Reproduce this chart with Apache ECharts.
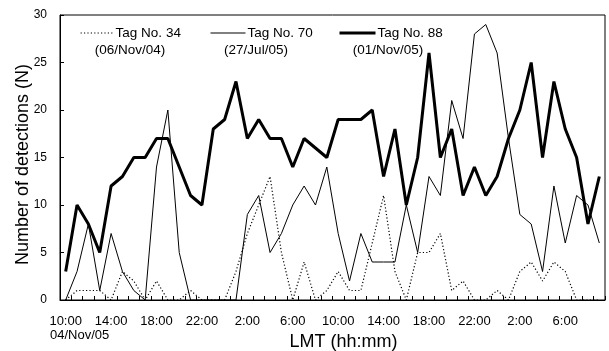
<!DOCTYPE html>
<html>
<head>
<meta charset="utf-8">
<script src="https://cdn.jsdelivr.net/npm/echarts@6/dist/echarts.min.js"></script>
<style>
  html, body { margin: 0; padding: 0; background: #fff; }
  #chart { width: 609px; height: 351px; }
</style>
</head>
<body>
<div id="chart"></div>
<script>
// hourly bins, 10:00 on 04/Nov/05 through 09:00 two days later
const hours = [
  '10:00', '11:00', '12:00', '13:00', '14:00', '15:00', '16:00', '17:00',
  '18:00', '19:00', '20:00', '21:00', '22:00', '23:00', '0:00', '1:00',
  '2:00', '3:00', '4:00', '5:00', '6:00', '7:00', '8:00', '9:00',
  '10:00', '11:00', '12:00', '13:00', '14:00', '15:00', '16:00', '17:00',
  '18:00', '19:00', '20:00', '21:00', '22:00', '23:00', '0:00', '1:00',
  '2:00', '3:00', '4:00', '5:00', '6:00', '7:00', '8:00', '9:00'
];
const startDate = '04/Nov/05';

const tag34 = [
  0, 1, 1, 1, 0, 3, 2, 0, 2, 0, 0, 1, 0, 0, 0, 3,
  7, 10, 13, 5, 0, 4, 0, 1, 3, 1, 1, 6, 11, 3, 0, 5,
  5, 7, 1, 2, 0, 0, 1, 0, 3, 4, 2, 4, 3, 0, 0, 0
];
const tag70 = [
  0, 3, 8, 1, 7, 3, 1, 0, 14, 20, 5, 0, 0, 0, 0, 0,
  9, 11, 5, 7, 10, 12, 10, 14, 7, 2, 7, 4, 4, 4, 10, 5,
  13, 11, 21, 17, 28, 29, 26, 17, 9, 8, 3, 12, 6, 11, 10, 6
];
const tag88 = [
  3, 10, 8, 5, 12, 13, 15, 15, 17, 17, 14, 11, 10, 18, 19, 23,
  17, 19, 17, 17, 14, 17, 16, 15, 19, 19, 19, 20, 13, 18, 10, 15,
  26, 15, 18, 11, 14, 11, 13, 17, 20, 25, 15, 23, 18, 15, 8, 13
];

const tagNames = ['Tag No. 34', 'Tag No. 70', 'Tag No. 88'];
const tagDates = ['(06/Nov/04)', '(27/Jul/05)', '(01/Nov/05)'];

const FONT = '"Liberation Sans", Arial, sans-serif';
const INK = '#000';

const chart = echarts.init(document.getElementById('chart'), null, { renderer: 'canvas' });

// one legend block per tag so each can sit where the original put it
const legendLeft = [80, 210, 338];
const legendWidth = [33, 35, 36];
const legendLine = [1.2, 1, 3];
const legends = tagNames.map((name, i) => ({
  left: legendLeft[i],
  top: 26,
  itemWidth: legendWidth[i],
  itemHeight: 14,
  padding: 0,
  selectedMode: false,
  itemStyle: { opacity: 0 },
  lineStyle: { width: legendLine[i] },
  textStyle: { color: INK, fontSize: 13.5, fontFamily: FONT, padding: [0, 0, 0, -3] },
  data: [name]
}));

// date captions under each legend entry
const dateX = [130, 256, 388];
const dateText = tagDates.map((d, i) => ({
  type: 'text',
  x: dateX[i],
  y: 50,
  style: {
    text: d, fill: INK, font: '13.5px ' + FONT,
    textAlign: 'center', textVerticalAlign: 'middle'
  }
}));

chart.setOption({
  animation: false,
  grid: {
    left: 60, right: 4, top: 15, bottom: 51,
    outerBoundsMode: 'none',
    show: true, borderColor: INK, borderWidth: 1, backgroundColor: 'transparent'
  },
  legend: legends,
  graphic: [
    ...dateText,
    {
      type: 'text',
      x: 50,
      y: 335,
      style: { text: startDate, fill: INK, font: '13px ' + FONT, textVerticalAlign: 'middle' }
    }
  ],
  xAxis: {
    type: 'category',
    data: hours,
    boundaryGap: true,
    name: 'LMT (hh:mm)',
    nameLocation: 'middle',
    nameGap: 33,
    nameMoveOverlap: false,
    nameTextStyle: { color: INK, fontSize: 18, fontFamily: FONT, padding: [0, 0, 0, 22] },
    axisLine: { lineStyle: { color: INK, width: 1 } },
    axisTick: { show: true, inside: true, length: 4, interval: 0, lineStyle: { color: INK } },
    axisLabel: { interval: 3, color: INK, fontSize: 13, fontFamily: FONT, margin: 15 },
    splitLine: { show: false }
  },
  yAxis: {
    type: 'value',
    min: 0,
    max: 30,
    interval: 5,
    name: 'Number of detections (N)',
    nameLocation: 'middle',
    nameGap: 28,
    nameMoveOverlap: false,
    nameTextStyle: { color: INK, fontSize: 18, fontFamily: FONT, padding: [0, 14, 0, 0] },
    axisLine: { show: true, lineStyle: { color: INK, width: 1 } },
    axisTick: { show: true, inside: true, length: 4, lineStyle: { color: INK } },
    axisLabel: { color: INK, fontSize: 12, fontFamily: FONT, margin: 13 },
    splitLine: { show: false }
  },
  series: [
    {
      name: tagNames[0],
      type: 'line',
      data: tag34,
      symbol: 'none',
      lineStyle: { color: INK, width: 1.2, type: [1.2, 2.2] },
      itemStyle: { color: INK },
      z: 2
    },
    {
      name: tagNames[1],
      type: 'line',
      data: tag70,
      symbol: 'none',
      lineStyle: { color: INK, width: 1 },
      itemStyle: { color: INK },
      z: 3
    },
    {
      name: tagNames[2],
      type: 'line',
      data: tag88,
      symbol: 'none',
      lineStyle: { color: INK, width: 3 },
      itemStyle: { color: INK },
      z: 4
    }
  ]
});
</script>
</body>
</html>
